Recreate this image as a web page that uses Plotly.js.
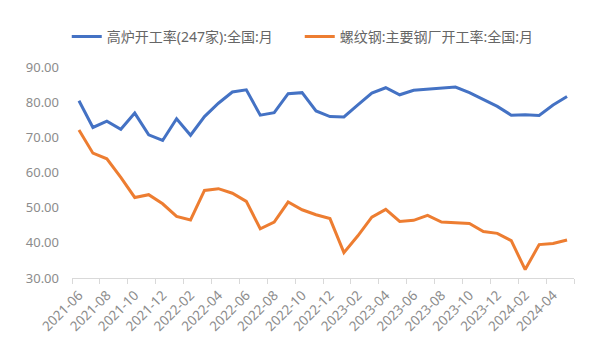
<!DOCTYPE html>
<html>
<head>
<meta charset="utf-8">
<script src="https://cdn.plot.ly/plotly-3.0.1.min.js"></script>
<style>html,body{margin:0;padding:0;background:#fff;}#chart{width:596px;height:358px;}</style>
</head>
<body>
<div id="chart"></div>
<script>
const months = ["2021-06","2021-07","2021-08","2021-09","2021-10","2021-11","2021-12",
"2022-01","2022-02","2022-03","2022-04","2022-05","2022-06","2022-07","2022-08","2022-09","2022-10","2022-11","2022-12",
"2023-01","2023-02","2023-03","2023-04","2023-05","2023-06","2023-07","2023-08","2023-09","2023-10","2023-11","2023-12",
"2024-01","2024-02","2024-03","2024-04","2024-05"];
const blastFurnace = [80.4,72.8,74.6,72.3,76.9,70.7,69.1,75.3,70.6,75.9,79.7,82.9,83.5,76.3,77.0,82.4,82.7,77.5,75.9,75.8,
79.2,82.6,84.1,82.1,83.4,83.7,83.8,84.3,82.7,80.7,78.8,76.3,76.4,76.2,79.2,81.6];
const rebarMills = [72.1,65.5,63.9,58.6,52.9,53.7,51.1,47.5,46.5,54.9,55.4,54.1,51.8,44.0,45.9,51.6,49.4,48.0,46.9,37.2,
42.0,47.3,49.5,46.1,46.4,47.8,45.9,45.7,45.5,43.2,42.7,40.6,32.4,39.5,39.8,40.8];
const seriesNames = ["高炉开工率(247家):全国:月","螺纹钢:主要钢厂开工率:全国:月"];

const xIdx = months.map((m,i)=>i);
const labelIdx = xIdx.filter(i=>i%2===0);
const labelText = labelIdx.map(i=>months[i]);

const traces = [
  {x:xIdx, y:blastFurnace, name:seriesNames[0], type:"scatter", mode:"lines",
   line:{color:"#4472C4", width:3}},
  {x:xIdx, y:rebarMills, name:seriesNames[1], type:"scatter", mode:"lines",
   line:{color:"#ED7D31", width:3}}
];
const font = "'Noto Sans', 'Noto Sans CJK SC', sans-serif";
const layout = {
  width:596, height:358,
  margin:{l:72, r:22, t:67, b:80},
  paper_bgcolor:"#fff", plot_bgcolor:"#fff",
  font:{family:font, color:"#8c8c8c", size:12},
  showlegend:true,
  legend:{orientation:"h", xref:"container", yref:"container", x:0.112, y:0.897, xanchor:"left", yanchor:"middle",
          font:{size:14, color:"#666666"}, itemwidth:30, entrywidth:188, entrywidthmode:"pixels"},
  xaxis:{type:"linear", range:[-0.5,35.5], tickmode:"array", tickvals:labelIdx, ticktext:labelText,
         tickangle:-45, ticks:"", showgrid:false, zeroline:false, showline:true, linecolor:"#d9d9d9", linewidth:1,
         ticklabelstandoff:3, tickfont:{size:13.5, color:"#8c8c8c"},
         minor:{tick0:-0.5, dtick:2, ticks:"outside", ticklen:5, tickcolor:"#d9d9d9", tickwidth:1, showgrid:false}},
  yaxis:{range:[30,90], tickvals:[30,40,50,60,70,80,90], tickformat:".2f", showgrid:false, zeroline:false,
         showline:false, ticks:"", ticklabelstandoff:12, tickfont:{size:13, color:"#8c8c8c"}}
};
Plotly.newPlot("chart", traces, layout, {displayModeBar:false, staticPlot:true});
</script>
</body>
</html>
